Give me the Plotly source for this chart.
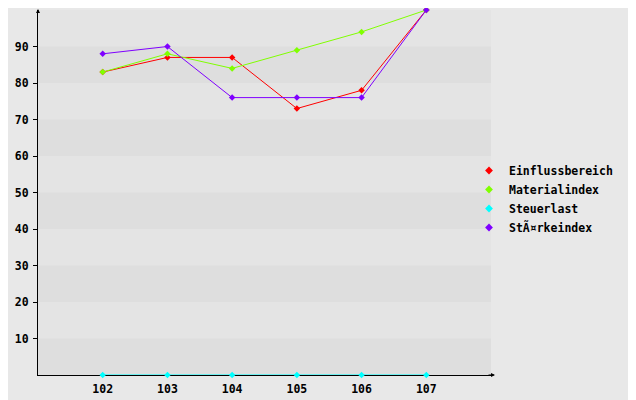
import plotly.graph_objects as go

categories = [102, 103, 104, 105, 106, 107]
einfluss = [83, 87, 87, 73, 78, 100]
material = [83, 88, 84, 89, 94, 100]
steuer = [0, 0, 0, 0, 0, 0]
staerke = [88, 90, 76, 76, 76, 100]
y_ticks = [10, 20, 30, 40, 50, 60, 70, 80, 90]

series = [
    ("Einflussbereich", einfluss, "#ff0000"),
    ("Materialindex", material, "#80ff00"),
    ("Steuerlast", steuer, "#00ffff"),
    ("StÃ¤rkeindex", staerke, "#7f00ff"),
]

tick_font = dict(family="DejaVu Sans Mono", size=11.5, weight="bold", color="#000000")

fig = go.Figure()
for name, vals, col in series:
    fig.add_trace(go.Scatter(
        x=categories, y=vals, name=name, mode="lines+markers",
        line=dict(color=col, width=1),
        marker=dict(symbol="diamond", size=5, color=col),
        cliponaxis=False, showlegend=False, legendgroup=name,
    ))
for name, vals, col in series:
    fig.add_trace(go.Scatter(
        x=[None], y=[None], name=name, mode="markers",
        marker=dict(symbol="diamond", size=6, color=col),
        showlegend=True, legendgroup=name,
    ))

shapes = []
for b in range(0, 100, 20):
    shapes.append(dict(type="rect", xref="paper", yref="y", x0=0, x1=1,
                       y0=b, y1=b + 10, fillcolor="#dedede", line=dict(width=0),
                       layer="below"))

# page body adds an 8px offset; compensate in margins
OFF = 8
L, T = 38 - OFF, 10 - OFF
plot_w, plot_h = 453, 365
fig.update_layout(
    width=636, height=400,
    margin=dict(l=L, r=636 - L - plot_w, t=T, b=400 - T - plot_h, autoexpand=False),
    paper_bgcolor="#e8e8e8",
    plot_bgcolor="#e4e4e4",
    font=tick_font,
    shapes=shapes,
    showlegend=True,
    legend=dict(x=(469 - 38) / plot_w, xanchor="left", y=(375 - 199) / plot_h, yanchor="middle",
                bgcolor="rgba(0,0,0,0)", font=tick_font,
                itemwidth=30, tracegroupgap=0),
    xaxis=dict(range=[101, 108], tickvals=categories, ticktext=[str(c) for c in categories],
               showgrid=False, zeroline=False, showline=True, linecolor="#000000", linewidth=1,
               layer="below traces", ticks="", automargin=False, ticklabelstandoff=3,
               tickfont=tick_font),
    yaxis=dict(range=[0, 100], tickvals=y_ticks, showgrid=False, zeroline=False,
               showline=True, linecolor="#000000", linewidth=1, layer="below traces",
               ticks="outside", ticklen=4, tickcolor="#000000", ticklabelstandoff=2,
               automargin=False, tickfont=tick_font),
)

# arrowheads at the axis ends
fig.add_annotation(xref="paper", yref="paper", x=0, y=1 + 5 / plot_h, ax=0, ay=8,
                   axref="pixel", ayref="pixel", showarrow=True, arrowhead=2,
                   arrowsize=0.8, arrowwidth=1, arrowcolor="#000000", text="")
fig.add_annotation(xref="paper", yref="paper", x=1 + 4 / plot_w, y=0, ax=-8, ay=0,
                   axref="pixel", ayref="pixel", showarrow=True, arrowhead=2,
                   arrowsize=0.8, arrowwidth=1, arrowcolor="#000000", text="")

fig.write_html("out.html")
